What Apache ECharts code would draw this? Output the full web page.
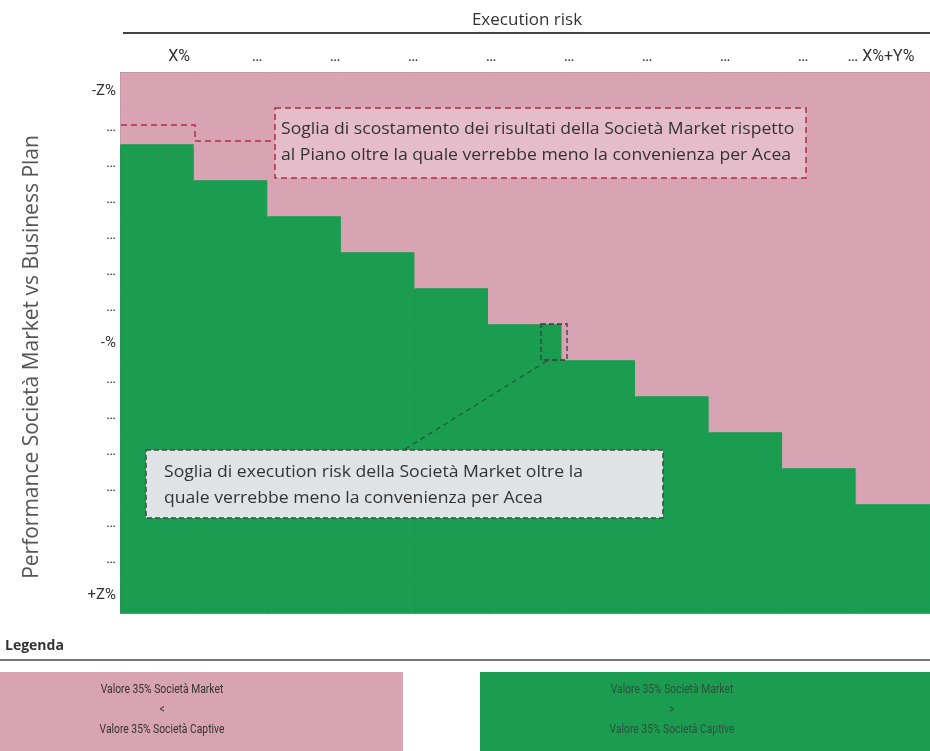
<!DOCTYPE html>
<html>
<head>
<meta charset="utf-8">
<script src="https://cdn.jsdelivr.net/npm/echarts@6/dist/echarts.min.js"></script>
<style>
  html, body { margin: 0; padding: 0; background: #ffffff; }
  #chart { width: 930px; height: 751px; }
</style>
</head>
<body>
<div id="chart"></div>
<script>
// Execution-risk buckets (columns of the grid)
const riskColumns = ['r1', 'r2', 'r3', 'r4', 'r5', 'r6', 'r7', 'r8', 'r9', 'r10', 'r11'];
// Tick labels printed along the top
const riskLabels = ['X%', '…', '…', '…', '…', '…', '…', '…', '…', '… X%+Y%'];
// Performance buckets, from worst (top) to best (bottom)
const performanceLabels = ['-Z%', '…', '…', '…', '…', '…', '…', '-%', '…', '…', '…', '…', '…', '…', '+Z%'];
// For every execution-risk column: first performance row (from the top) where
// the 35% of Società Market is worth more than the 35% of Società Captive
const marketWinsFromRow = [2, 3, 4, 5, 6, 7, 8, 9, 10, 11, 12];

const PINK = '#d8a3b3';
const GREEN = '#1a9d50';
const LABEL_FONT = '"Roboto", "Noto Sans", sans-serif';
const BODY = '"Open Sans", "Noto Sans", sans-serif';

// green where Market > Captive, pink where Market < Captive
const cells = [];
riskColumns.forEach((_, c) => {
  performanceLabels.forEach((__, r) => {
    const wins = r >= marketWinsFromRow[c];
    const col = wins ? GREEN : PINK;
    cells.push({ value: [c, r, wins ? 1 : 0], itemStyle: { color: col, borderColor: col, borderWidth: 1 } });
  });
});

const chart = echarts.init(document.getElementById('chart'), null, { renderer: 'canvas' });

chart.setOption({
  animation: false,
  backgroundColor: '#ffffff',
  grid: [
    { left: 121, right: 0, top: 73, bottom: 138 },
    { left: 140, right: 10, top: 73, height: 1 }
  ],
  xAxis: [
    {
      type: 'category', gridIndex: 0, position: 'top',
      data: riskColumns.map((_, i) => i),
      axisLine: { show: true, lineStyle: { color: '#3a3a3a', width: 1.5 } },
      axisTick: { show: false }, axisLabel: { show: false }, splitLine: { show: false }
    },
    {
      type: 'category', gridIndex: 1, position: 'top',
      data: riskLabels.map((_, i) => i),
      axisLine: { show: false }, axisTick: { show: false },
      axisLabel: {
        interval: 0, margin: 8, fontFamily: LABEL_FONT, fontSize: 16, color: '#333',
        formatter: (v) => riskLabels[+v]
      }
    }
  ],
  yAxis: [
    {
      type: 'category', gridIndex: 0, inverse: true,
      data: performanceLabels.map((_, i) => i),
      axisLine: { show: true, lineStyle: { color: '#3a3a3a', width: 1.5 } },
      axisTick: { show: false },
      axisLabel: {
        interval: 0, margin: 5, fontFamily: LABEL_FONT, fontSize: 15, color: '#333',
        formatter: (v) => performanceLabels[+v]
      }
    },
    { type: 'value', gridIndex: 1, show: false }
  ],
  series: [{
    type: 'heatmap', xAxisIndex: 0, yAxisIndex: 0,
    data: cells,
    emphasis: { disabled: true },
    silent: true
  }]
});

// Annotations and legend (drawn above the grid)
const dashRed = '#b12c48';
const dashDark = '#34503f';
const noteText = (x, y, text) => ({
  type: 'text', x: x, y: y, scaleX: 1.1, z: 101,
  style: { text: text, font: '16px ' + BODY, fill: '#333', verticalAlign: 'middle' }
});
const legendText = (x, y, text, fill) => ({
  type: 'text', x: x, y: y, scaleX: 0.86, z: 100,
  style: { text: text, font: '12px ' + LABEL_FONT, fill: fill, align: 'center', verticalAlign: 'middle' }
});
const graphics = [
  // axis titles and rule above the risk labels
  { type: 'text', x: 527, y: 20, z: 100, style: { text: 'Execution risk', font: '17px ' + BODY, fill: '#333', align: 'center', verticalAlign: 'middle' } },
  { type: 'line', z: 100, shape: { x1: 123, y1: 33, x2: 930, y2: 33 }, style: { stroke: '#444', lineWidth: 2 } },
  { type: 'text', x: 32, y: 357, rotation: Math.PI / 2, z: 100,
    style: { text: 'Performance Società Market vs Business Plan', font: '21px ' + BODY, fill: '#555', align: 'center', verticalAlign: 'middle' } },

  // threshold on Market results vs plan
  { type: 'polyline', z: 100, shape: { points: [[121, 125], [195, 125], [195, 141], [275, 141]] },
    style: { stroke: dashRed, lineWidth: 1.5, lineDash: [6, 4], fill: null } },
  { type: 'line', z: 100, shape: { x1: 125, y1: 157, x2: 192, y2: 157 },
    style: { stroke: 'rgba(150,90,70,0.45)', lineWidth: 1.2, lineDash: [5, 5] } },
  { type: 'rect', z: 100, shape: { x: 275, y: 108, width: 531, height: 70 },
    style: { fill: 'rgba(236,205,216,0.6)', stroke: dashRed, lineWidth: 1.5, lineDash: [6, 4] } },
  noteText(281, 129, 'Soglia di scostamento dei risultati della Società Market rispetto'),
  noteText(281, 155, 'al Piano oltre la quale verrebbe meno la convenienza per Acea'),

  // threshold on execution risk
  { type: 'rect', z: 100, shape: { x: 541, y: 324, width: 26, height: 36 },
    style: { fill: null, stroke: '#3a3a3a', lineWidth: 1.3, lineDash: [5, 3] } },
  { type: 'line', z: 100, shape: { x1: 547, y1: 361, x2: 405, y2: 449 },
    style: { stroke: 'rgba(40,70,50,0.75)', lineWidth: 1.3, lineDash: [5, 4] } },
  { type: 'rect', z: 100, shape: { x: 146, y: 450, width: 517, height: 68 },
    style: { fill: '#dfe3e6', stroke: dashDark, lineWidth: 1.5, lineDash: [5, 3] } },
  noteText(164, 472, 'Soglia di execution risk della Società Market oltre la'),
  noteText(164, 498, 'quale verrebbe meno la convenienza per Acea'),

  // legend
  { type: 'text', z: 100, left: 5, top: 639, style: { text: 'Legenda', font: 'bold 14px ' + BODY, fill: '#333' } },
  { type: 'line', z: 100, shape: { x1: 0, y1: 660, x2: 930, y2: 660 }, style: { stroke: '#777', lineWidth: 2 } },
  { type: 'rect', z: 100, shape: { x: 0, y: 672, width: 403, height: 79 }, style: { fill: PINK } },
  { type: 'rect', z: 100, shape: { x: 480, y: 672, width: 450, height: 79 }, style: { fill: GREEN } },
  legendText(162, 690, 'Valore 35% Società Market', '#333'),
  legendText(162, 710, '<', '#333'),
  legendText(162, 730, 'Valore 35% Società Captive', '#333'),
  legendText(672, 690, 'Valore 35% Società Market', '#2f4f3a'),
  legendText(672, 710, '>', '#2f4f3a'),
  legendText(672, 730, 'Valore 35% Società Captive', '#2f4f3a')
];
chart.setOption({ graphic: graphics });
</script>
</body>
</html>
